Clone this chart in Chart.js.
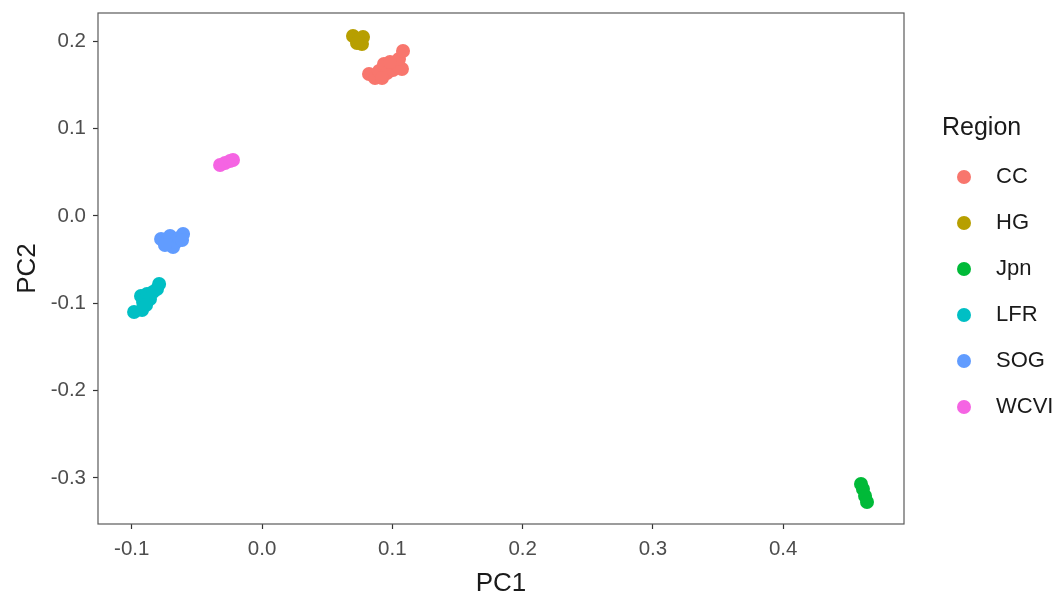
<!DOCTYPE html>
<html><head><meta charset="utf-8">
<script src="https://cdn.jsdelivr.net/npm/chart.js@4.4.1/dist/chart.umd.min.js"></script>
<style>
html,body{margin:0;padding:0;background:#fff;}
#wrap{position:relative;width:1055px;height:596px;}
#legend{position:absolute;left:0;top:0;width:1055px;height:596px;font-family:"Liberation Sans",Arial,sans-serif;color:#1a1a1a;pointer-events:none;}
#legend .title{position:absolute;left:942px;top:113.5px;font-size:25px;line-height:25px;white-space:nowrap;}
#legend .dot{position:absolute;left:957px;width:14px;height:14px;border-radius:50%;}
#legend .lab{position:absolute;left:996px;font-size:22px;line-height:22px;white-space:nowrap;}
</style></head>
<body><div id="wrap"><canvas id="c" width="1055" height="596"></canvas><div id="legend"></div></div>
<script>
const regions = ["CC","HG","Jpn","LFR","SOG","WCVI"];
const colors = ["#F8766D","#B79F00","#00BA38","#00BFC4","#619CFF","#F564E3"];
const xTicks = [-0.1,0.0,0.1,0.2,0.3,0.4];
const yTicks = [-0.3,-0.2,-0.1,0.0,0.1,0.2];

const CC_pc1 = [0.0821,0.0867,0.0898,0.0936,0.0959,0.0921,0.1005,0.1044,0.1074,0.1051,0.1082,0.0982];
const CC_pc2 = [0.1627,0.1581,0.1661,0.1741,0.1638,0.1581,0.1672,0.1718,0.1684,0.1798,0.1890,0.1764];
const HG_pc1 = [0.0698,0.0744,0.0775,0.0767,0.0729];
const HG_pc2 = [0.2062,0.2027,0.2050,0.1970,0.1982];
const Jpn_pc1 = [0.4597,0.4612,0.4628,0.4643];
const Jpn_pc2 = [-0.3070,-0.3127,-0.3207,-0.3276];
const LFR_pc1 = [-0.0982,-0.0921,-0.0913,-0.0929,-0.0883,-0.0860,-0.0837,-0.0806,-0.0790,-0.0890];
const LFR_pc2 = [-0.1100,-0.1077,-0.0985,-0.0916,-0.0893,-0.0951,-0.0871,-0.0836,-0.0779,-0.1019];
const SOG_pc1 = [-0.0775,-0.0729,-0.0706,-0.0683,-0.0660,-0.0637,-0.0606,-0.0614,-0.0745];
const SOG_pc2 = [-0.0263,-0.0286,-0.0229,-0.0355,-0.0298,-0.0252,-0.0206,-0.0275,-0.0332];
const WCVI_pc1 = [-0.0322,-0.0284,-0.0246,-0.0223];
const WCVI_pc2 = [0.0584,0.0607,0.0630,0.0641];

const seriesX = [CC_pc1,HG_pc1,Jpn_pc1,LFR_pc1,SOG_pc1,WCVI_pc1];
const seriesY = [CC_pc2,HG_pc2,Jpn_pc2,LFR_pc2,SOG_pc2,WCVI_pc2];

const datasets = regions.map((r,i)=>({
  label:r,
  data: seriesX[i].map((x,j)=>({x:x,y:seriesY[i][j]})),
  backgroundColor: colors[i],
  borderColor: colors[i],
  borderWidth:0,
  pointRadius:7,
  pointHoverRadius:7
}));

const FONT = "'Liberation Sans', Arial, sans-serif";
const borderPlugin = {
  id:'panelBorder',
  afterDraw(chart){
    const a = chart.chartArea, ctx = chart.ctx;
    ctx.save();
    ctx.strokeStyle = '#5a5a5a';
    ctx.lineWidth = 1.2;
    ctx.strokeRect(a.left, a.top, a.right-a.left, a.bottom-a.top);
    ctx.restore();
  }
};

new Chart(document.getElementById('c'), {
  type:'scatter',
  data:{datasets},
  plugins:[borderPlugin],
  options:{
    responsive:false,
    animation:false,
    layout:{padding:{top:13,right:151,left:0,bottom:0}},
    plugins:{legend:{display:false},tooltip:{enabled:false}},
    scales:{
      x:{
        type:'linear', min:-0.1259, max:0.4927,
        afterBuildTicks(s){ s.ticks = xTicks.map(v=>({value:v})); },
        afterFit(s){ s.height = 72; s.paddingLeft = 0; s.paddingRight = 0; },
        grid:{display:true,drawOnChartArea:false,drawTicks:true,tickLength:5,tickColor:'#333333',tickWidth:1.2},
        border:{display:false},
        ticks:{color:'#4d4d4d',font:{family:FONT,size:20.5},padding:8,callback:v=>v.toFixed(1),maxRotation:0,autoSkip:false},
        title:{display:true,text:'PC1',color:'#1a1a1a',font:{family:FONT,size:26,lineHeight:0.8},padding:{top:0,bottom:1.5}}
      },
      y:{
        type:'linear', min:-0.3528, max:0.2325,
        afterBuildTicks(s){ s.ticks = yTicks.map(v=>({value:v})); },
        afterFit(s){ s.width = 98; s.paddingTop = 0; s.paddingBottom = 0; },
        grid:{display:true,drawOnChartArea:false,drawTicks:true,tickLength:5,tickColor:'#333333',tickWidth:1.2},
        border:{display:false},
        ticks:{color:'#4d4d4d',font:{family:FONT,size:20.5},padding:7,callback:v=>v.toFixed(1),autoSkip:false},
        title:{display:true,text:'PC2',color:'#1a1a1a',font:{family:FONT,size:26},padding:{top:12,bottom:0}}
      }
    }
  }
});

const lg = document.getElementById('legend');
let html = '<div class="title">Region</div>';
regions.forEach((r,i)=>{
  const cy = 177 + i*46;
  html += '<span class="dot" style="top:'+(cy-7)+'px;background:'+colors[i]+'"></span>';
  html += '<span class="lab" style="top:'+(cy-12)+'px">'+r+'</span>';
});
lg.innerHTML = html;
</script>
</body></html>
